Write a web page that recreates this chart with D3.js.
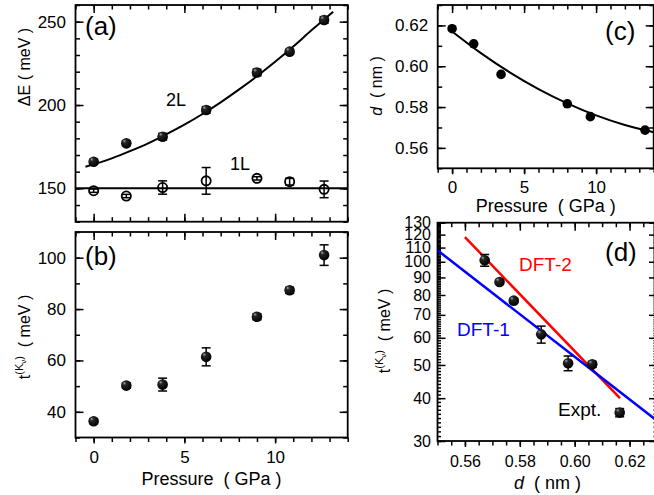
<!DOCTYPE html>
<html>
<head>
<meta charset="utf-8">
<script src="https://cdn.jsdelivr.net/npm/d3@7"></script>
<style>
  body { margin: 0; background: #fff; }
  svg { display: block; font-family: "Liberation Sans", Arial, sans-serif; }
</style>
</head>
<body>
<svg width="654" height="495"></svg>
<script>
(function(){
	'use strict';

	// ---- data ----
	// (a) band offset vs pressure
	const pressure = [0, 1.8, 3.8, 6.2, 9.0, 10.8, 12.7];
	const gap2L = [166, 177, 181, 197, 219.5, 232, 251];
	const gap2LErr = [1.5, 1.5, 2, 2, 2, 1.5, 2];
	const gap1L = [148.6, 145.4, 150.5, 154.5, 156, 154, 149.4];
	const gap1LErr = [1, 1, 4, 8, 1, 2, 5];
	const fit2LP = [-0.45, 1, 2, 3, 4, 5, 6, 7, 8, 9, 10, 11, 12, 13.2];
	const fit2L = [163, 168, 172.3, 177, 182.4, 188.2, 194.6, 201.6, 209.2, 217.3, 225.9, 235.1, 244.8, 256];
	const fit1LP = [-1, 14];
	const fit1L = [150, 150];

	// (b) hopping vs pressure
	const hopT = [36.3, 50.2, 50.6, 61.4, 77, 87.3, 101];
	const hopErr = [1, 1, 2.5, 3.5, 1.2, 1.2, 4];

	// (c) interlayer distance vs pressure
	const structP = [0, 1.5, 3.4, 8.0, 9.6, 13.4];
	const structD = [0.6184, 0.611, 0.596, 0.5816, 0.5753, 0.5687];
	const fitDP = [0, 2, 4, 6, 8, 10, 12, 14];
	const fitD = [0.617, 0.6064, 0.597, 0.5888, 0.5818, 0.5759, 0.5712, 0.5677];

	// (d) hopping vs distance
	const hopD = [0.6164, 0.6064, 0.5976, 0.5878, 0.5778, 0.5726, 0.5672];
	const dft1D = [0.55, 0.63];
	const dft1T = [108, 34.4];
	const dft2D = [0.56, 0.6165];
	const dft2T = [118, 40];

	// tick labels
	const pTicks = [0, 5, 10];
	const gapTicks = [150, 200, 250];
	const hopTicks = [40, 60, 80, 100];
	const dTicks = [0.56, 0.58, 0.60, 0.62];
	const dxTicks = [0.56, 0.58, 0.60, 0.62];
	const logTicks = [30, 40, 50, 60, 70, 80, 90, 100, 110, 120, 130];

	const svg = d3.select('svg');
	const defs = svg.append('defs');

	const grad = defs.append('radialGradient')
		.attr('id', 'ball')
		.attr('cx', 0.42).attr('cy', 0.38).attr('r', 0.62)
		.attr('fx', 0.3).attr('fy', 0.26);
	grad.append('stop').attr('offset', 0).attr('stop-color', '#a8a8a8');
	grad.append('stop').attr('offset', 0.28).attr('stop-color', '#262626');
	grad.append('stop').attr('offset', 1).attr('stop-color', '#000');

	const tickFont = 17;

	// draws the box, mirrored ticks and tick labels for one panel
	function frame(opt) {
		const g = svg.append('g');
		const [x0, x1] = opt.x.range();
		const [y0, y1] = opt.y.range(); // y0 bottom, y1 top

		const clean = s => s.select('.domain').remove();

		// bottom
		const outward = opt.xLabels;
		const bMaj = d3.axisBottom(opt.x).tickValues(opt.xMajor)
			.tickSize(outward ? 6 : -8).tickPadding(outward ? opt.xPad : 3)
			.tickFormat(outward ? opt.xFormat : '');
		const bMin = d3.axisBottom(opt.x).tickValues(opt.xMinor)
			.tickSize(outward ? 4.5 : -4.5).tickFormat('');
		g.append('g').attr('transform', `translate(0,${y0})`).call(bMaj).call(clean);
		g.append('g').attr('transform', `translate(0,${y0})`).call(bMin).call(clean);

		// top
		g.append('g').attr('transform', `translate(0,${y1})`)
			.call(d3.axisTop(opt.x).tickValues(opt.xMajor).tickSize(-8).tickFormat('')).call(clean);
		g.append('g').attr('transform', `translate(0,${y1})`)
			.call(d3.axisTop(opt.x).tickValues(opt.xMinor).tickSize(-4.5).tickFormat('')).call(clean);

		// left
		g.append('g').attr('transform', `translate(${x0},0)`)
			.call(d3.axisLeft(opt.y).tickValues(opt.yMajor).tickSize(-8)
				.tickPadding(opt.yPad).tickFormat(opt.yFormat)).call(clean);
		g.append('g').attr('transform', `translate(${x0},0)`)
			.call(d3.axisLeft(opt.y).tickValues(opt.yMinor).tickSize(-opt.yMinorLen).tickFormat('')).call(clean);

		// right
		g.append('g').attr('transform', `translate(${x1},0)`)
			.call(d3.axisRight(opt.y).tickValues(opt.yMajor).tickSize(-8).tickFormat('')).call(clean);
		g.append('g').attr('transform', `translate(${x1},0)`)
			.call(d3.axisRight(opt.y).tickValues(opt.yMinor).tickSize(-opt.yMinorLen).tickFormat('')).call(clean);

		g.selectAll('.tick line').attr('stroke', '#000').attr('stroke-width', 1.5);
		g.selectAll('.tick text').attr('font-size', opt.font || tickFont).attr('fill', '#000')
			.attr('font-family', '"Liberation Sans", Arial, sans-serif');

		g.append('rect')
			.attr('x', x0).attr('y', y1)
			.attr('width', x1 - x0).attr('height', y0 - y1)
			.attr('fill', 'none').attr('stroke', '#000').attr('stroke-width', 1.8);
		return g;
	}

	function clip(id, x, y) {
		const [x0, x1] = x.range();
		const [y0, y1] = y.range();
		defs.append('clipPath').attr('id', id)
			.append('rect').attr('x', x0).attr('y', y1)
			.attr('width', x1 - x0).attr('height', y0 - y1);
	}

	function errorBars(g, xs, ys, errs, x, y) {
		const cap = 4.5;
		const eb = g.append('g').attr('stroke', '#000').attr('stroke-width', 1.5);
		xs.forEach((v, i) => {
			const cx = x(v), top = y(ys[i] + errs[i]), bot = y(ys[i] - errs[i]);
			eb.append('line').attr('x1', cx).attr('x2', cx).attr('y1', top).attr('y2', bot);
			eb.append('line').attr('x1', cx - cap).attr('x2', cx + cap).attr('y1', top).attr('y2', top);
			eb.append('line').attr('x1', cx - cap).attr('x2', cx + cap).attr('y1', bot).attr('y2', bot);
		});
	}

	function balls(g, xs, ys, x, y) {
		g.append('g').selectAll('circle').data(xs).join('circle')
			.attr('cx', d => x(d))
			.attr('cy', (d, i) => y(ys[i]))
			.attr('r', 5.3)
			.attr('fill', 'url(#ball)');
	}

	function label(text, x, y, size, color) {
		return svg.append('text')
			.attr('x', x).attr('y', y)
			.attr('font-size', size)
			.attr('fill', color || '#000')
			.text(text);
	}

	const pMinor = d3.range(-1, 14.01, 1);

	// ---------- (a) ----------
	const xA = d3.scaleLinear().domain([-1, 14]).range([75.5, 347.7]);
	const yA = d3.scaleLinear().domain([130, 260]).range([221.7, 5]);
	frame({
		x: xA, y: yA,
		xMajor: pTicks, xMinor: pMinor, xLabels: false,
		yMajor: gapTicks, yMinor: d3.range(130, 261, 10), yMinorLen: 4.5,
		yPad: 9.5, yFormat: d3.format('d')
	});
	const gA = svg.append('g');
	const lineA = (px, vy) => d3.line().x((d, i) => xA(px[i])).y(d => yA(d)).curve(d3.curveMonotoneX)(vy);
	gA.append('path').attr('d', lineA(fit1LP, fit1L))
		.attr('fill', 'none').attr('stroke', '#000').attr('stroke-width', 2);
	gA.append('path').attr('d', lineA(fit2LP, fit2L))
		.attr('fill', 'none').attr('stroke', '#000').attr('stroke-width', 2);
	errorBars(gA, pressure, gap2L, gap2LErr, xA, yA);
	balls(gA, pressure, gap2L, xA, yA);
	errorBars(gA, pressure, gap1L, gap1LErr, xA, yA);
	gA.append('g').selectAll('circle').data(pressure).join('circle')
		.attr('cx', d => xA(d))
		.attr('cy', (d, i) => yA(gap1L[i]))
		.attr('r', 4.6)
		.attr('fill', 'none').attr('stroke', '#000').attr('stroke-width', 1.8);

	label('(a)', 85, 35, 26);
	label('2L', 166, 106, 18);
	label('1L', 230, 170, 18);
	svg.append('text')
		.attr('transform', 'translate(30,67) rotate(-90)')
		.attr('text-anchor', 'middle').attr('font-size', 16)
		.text('\u0394E\u00a0( meV )');

	// ---------- (b) ----------
	const xB = d3.scaleLinear().domain([-1, 14]).range([75.5, 347.7]);
	const yB = d3.scaleLinear().domain([30, 110]).range([437.5, 232]);
	frame({
		x: xB, y: yB,
		xMajor: pTicks, xMinor: pMinor, xLabels: true, xPad: 7.4, xFormat: d3.format('d'),
		yMajor: hopTicks, yMinor: d3.range(30, 111, 10), yMinorLen: 4.5,
		yPad: 9.5, yFormat: d3.format('d')
	});
	const gB = svg.append('g');
	errorBars(gB, pressure, hopT, hopErr, xB, yB);
	balls(gB, pressure, hopT, xB, yB);
	label('(b)', 85, 265, 26);

	function hopTitle(tx, ty) {
		const t = svg.append('text')
			.attr('transform', `translate(${tx},${ty}) rotate(-90)`)
			.attr('text-anchor', 'middle').attr('font-size', 16);
		t.append('tspan').text('t');
		t.append('tspan').attr('font-size', 11).attr('dy', -7).text('(K');
		t.append('tspan').attr('font-size', 8).attr('dy', 3).text('\u03bd');
		t.append('tspan').attr('font-size', 11).attr('dy', -3).text(')');
		t.append('tspan').attr('dy', 7).text('\u00a0\u00a0( meV )');
	}
	hopTitle(30, 337);

	svg.append('text')
		.attr('x', 211.6).attr('y', 485)
		.attr('text-anchor', 'middle').attr('font-size', 18)
		.text('Pressure\u00a0\u00a0(\u00a0GPa\u00a0)');

	// ---------- (c) ----------
	const xC = d3.scaleLinear().domain([-1, 14]).range([437.7, 653.7]);
	const yC = d3.scaleLinear().domain([0.55, 0.63]).range([168.3, 5]);
	frame({
		x: xC, y: yC,
		xMajor: pTicks, xMinor: pMinor, xLabels: true, xPad: 6.6, xFormat: d3.format('d'),
		yMajor: dTicks, yMinor: d3.range(0.55, 0.6301, 0.01), yMinorLen: 4.5,
		yPad: 9.5, yFormat: d3.format('.2f')
	});
	clip('clipC', xC, yC);
	const gC = svg.append('g').attr('clip-path', 'url(#clipC)');
	gC.append('path')
		.attr('d', d3.line().x((d, i) => xC(fitDP[i])).y(d => yC(d)).curve(d3.curveMonotoneX)(fitD))
		.attr('fill', 'none').attr('stroke', '#000').attr('stroke-width', 2);
	gC.append('g').selectAll('circle').data(structP).join('circle')
		.attr('cx', d => xC(d))
		.attr('cy', (d, i) => yC(structD[i]))
		.attr('r', 4.8).attr('fill', '#000');
	label('(c)', 605, 39.5, 26);
	const dTitleC = svg.append('text')
		.attr('transform', 'translate(382,86) rotate(-90)')
		.attr('text-anchor', 'middle').attr('font-size', 16);
	dTitleC.append('tspan').attr('font-style', 'italic').text('d');
	dTitleC.append('tspan').text('\u00a0\u00a0( nm )');
	svg.append('text')
		.attr('x', 545.7).attr('y', 212)
		.attr('text-anchor', 'middle').attr('font-size', 18)
		.text('Pressure\u00a0\u00a0(\u00a0GPa\u00a0)');

	// ---------- (d) ----------
	const xD = d3.scaleLinear().domain([0.55, 0.63]).range([437.5, 657]);
	const yD = d3.scaleLog().domain([30, 130]).range([441, 222.7]);
	frame({
		x: xD, y: yD,
		xMajor: dxTicks, xMinor: d3.range(0.55, 0.6301, 0.005), xLabels: true, xPad: 8.9, xFormat: d3.format('.2f'),
		yMajor: logTicks, yMinor: d3.range(30, 131, 1), yMinorLen: 3.5,
		yPad: 6.5, yFormat: d3.format('d'), font: 16
	});
	clip('clipD', xD, yD);
	const gD = svg.append('g').attr('clip-path', 'url(#clipD)');
	const lineD = d3.line().x(d => xD(d[0])).y(d => yD(d[1]));
	gD.append('path').attr('d', lineD(d3.zip(dft2D, dft2T)))
		.attr('fill', 'none').attr('stroke', '#ff0000').attr('stroke-width', 2.5);
	gD.append('path').attr('d', lineD(d3.zip(dft1D, dft1T)))
		.attr('fill', 'none').attr('stroke', '#0000ff').attr('stroke-width', 2.5);
	errorBars(gD, hopD, hopT, hopErr, xD, yD);
	balls(gD, hopD, hopT, xD, yD);

	label('(d)', 605, 261, 26);
	label('DFT-2', 519, 271, 19, '#ff0000');
	label('DFT-1', 457, 336, 19, '#0000ff');
	label('Expt.', 558, 416, 19);
	hopTitle(390, 331);
	const dTitleD = svg.append('text')
		.attr('x', 547.5).attr('y', 489)
		.attr('text-anchor', 'middle').attr('font-size', 18);
	dTitleD.append('tspan').attr('font-style', 'italic').text('d');
	dTitleD.append('tspan').text('\u00a0\u00a0(\u00a0nm\u00a0)');
})();
</script>
</body>
</html>
